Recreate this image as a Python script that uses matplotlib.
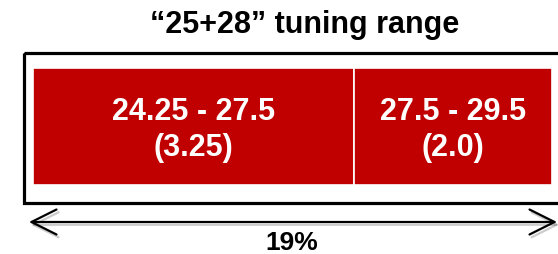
import matplotlib.pyplot as plt
import matplotlib.patheffects as pe
from matplotlib.patches import Rectangle

# tuning sub-ranges (GHz)
starts = [24.25, 27.5]
widths = [3.25, 2.0]
range_labels = ['24.25 - 27.5\n(3.25)', '27.5 - 29.5\n(2.0)']
span_label = '19%'
title = '\u201c25+28\u201d tuning range'

W, H = 558, 254
fig = plt.figure(figsize=(W / 100, H / 100), dpi=100)
ax = fig.add_axes([0, 0, 1, 1])

# x axis in GHz, y axis in pixels from top
px_per_ghz = (552 - 33) / (starts[-1] + widths[-1] - starts[0])
x0 = starts[0] - 33 / px_per_ghz
ax.set_xlim(x0, x0 + W / px_per_ghz)
ax.set_ylim(H, 0)
ax.axis('off')

font = ['Liberation Sans', 'DejaVu Sans']


def px(x):
    return x0 + x / px_per_ghz


# outer frame (runs off the right edge)
ax.add_patch(Rectangle((px(24), 53), 600 / px_per_ghz, 150, fill=False,
                       edgecolor='black', lw=2.3))

ax.barh(126.5, widths, left=starts, height=117, color='#C00000',
        edgecolor='white', linewidth=1.2)

for s, w, lab in zip(starts, widths, range_labels):
    ax.text(s + w / 2, 130, lab, color='white', ha='center', va='center',
            fontsize=22, fontweight='bold', family=font, linespacing=1.25)

ax.annotate('', xy=(px(557), 222), xytext=(px(29), 222),
            arrowprops=dict(arrowstyle='<->', lw=1.6, color='black',
                            mutation_scale=45, shrinkA=0, shrinkB=0,
                            path_effects=[pe.SimpleLineShadow(
                                offset=(1.5, -2), alpha=0.2), pe.Normal()]))

ax.text(px(292), 250, span_label, ha='center', va='baseline', fontsize=19,
        fontweight='bold', family=font)
ax.text(px(305), 33, title, ha='center', va='baseline', fontsize=22,
        fontweight='bold', family=font)

fig.savefig('out.png', dpi=100)
